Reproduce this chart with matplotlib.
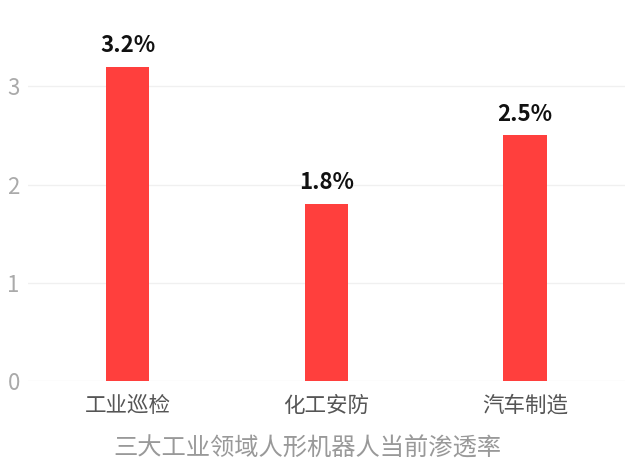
import matplotlib
matplotlib.use("Agg")
import matplotlib.pyplot as plt

plt.rcParams['font.family'] = ['Noto Sans CJK SC', 'DejaVu Sans']

categories = ["工业巡检", "化工安防", "汽车制造"]
values = [3.2, 1.8, 2.5]
value_labels = ["3.2%", "1.8%", "2.5%"]
y_ticks = [0, 1, 2, 3]

fig = plt.figure(figsize=(6.4, 4.7), dpi=100)
ax = fig.add_axes([0.044, 0.189, 0.932, 0.795])

x = list(range(len(categories)))
ax.bar(x, values, width=0.22, color="#ff3f3d", zorder=3)

for xi, v, lab in zip(x, values, value_labels):
    ax.text(xi, v + 0.1, lab, ha="center", va="bottom",
            fontsize=16, fontweight="bold", color="#111111")

ax.set_xlim(-0.5, 2.5)
ax.set_ylim(0, 3.8)
ax.set_yticks(y_ticks)
ax.set_xticks(x)
ax.set_xticklabels(categories, fontsize=15.5, color="#555555")
ax.tick_params(axis="y", labelsize=16, labelcolor="#aaaaaa", length=0, pad=6)
ax.tick_params(axis="x", length=0, pad=10)
for lab in ax.get_yticklabels():
    lab.set_fontweight("light")
ax.grid(axis="y", color="#f0f0f0", linewidth=1, zorder=0)
for s in ax.spines.values():
    s.set_visible(False)

fig.text(0.48, 0.045, "三大工业领域人形机器人当前渗透率", ha="center", va="center",
         fontsize=17.5, color="#999999")

fig.savefig("out.png", dpi=100)
